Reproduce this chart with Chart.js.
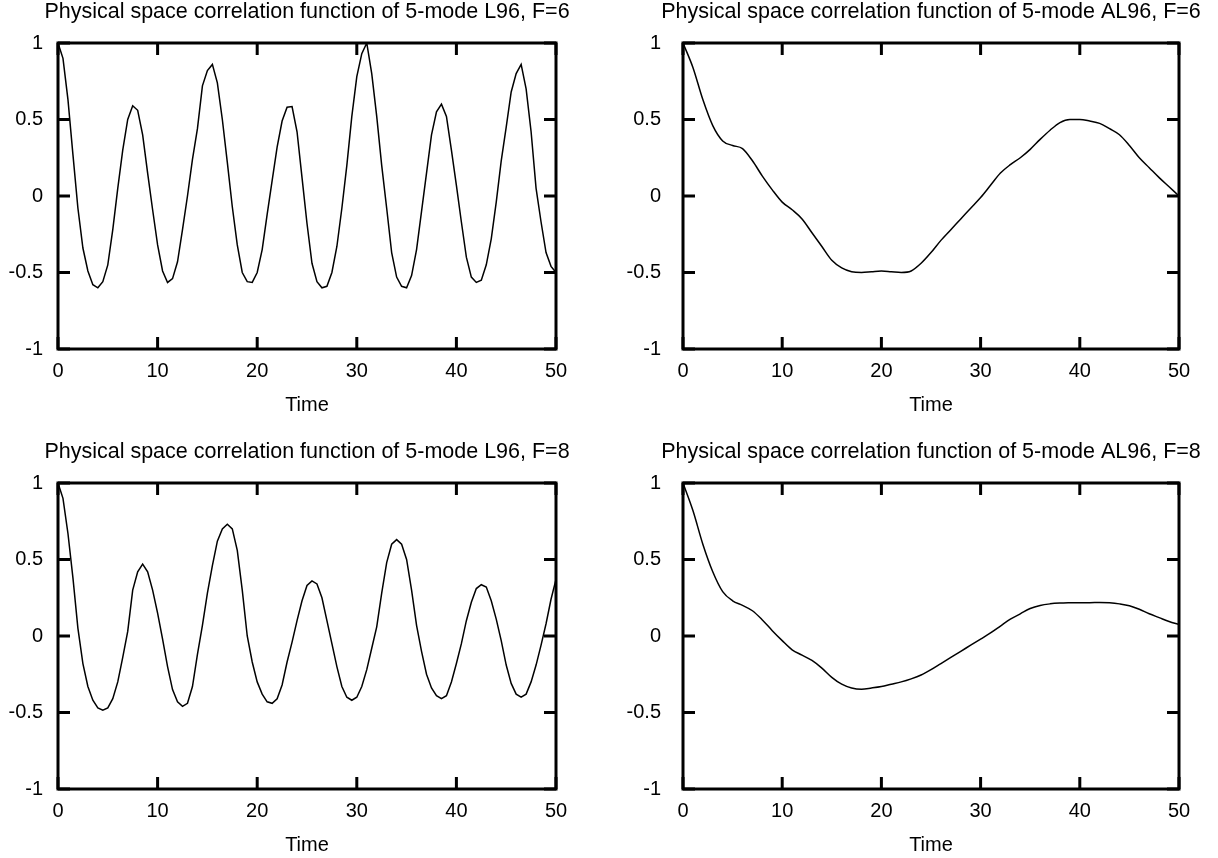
<!DOCTYPE html>
<html>
<head>
<meta charset="utf-8">
<script src="https://cdn.jsdelivr.net/npm/chart.js@4.4.1/dist/chart.umd.min.js"></script>
<style>
  html, body { margin: 0; padding: 0; background: #fff; overflow: hidden; }
  .panel { position: absolute; height: 420px; }
  .left { left: 0px; width: 614px; }
  .right { left: 609px; width: 644px; }
</style>
</head>
<body>
<div class="panel left" style="top:0px"><canvas id="chartL96F6"></canvas></div>
<div class="panel right" style="top:0px"><canvas id="chartAL96F6"></canvas></div>
<div class="panel left" style="top:440px"><canvas id="chartL96F8"></canvas></div>
<div class="panel right" style="top:440px"><canvas id="chartAL96F8"></canvas></div>
<script>
// sampling times
const timeHalf = [0, 0.5, 1, 1.5, 2, 2.5, 3, 3.5, 4, 4.5, 5, 5.5, 6, 6.5, 7, 7.5, 8, 8.5, 9, 9.5,
  10, 10.5, 11, 11.5, 12, 12.5, 13, 13.5, 14, 14.5, 15, 15.5, 16, 16.5, 17, 17.5, 18, 18.5, 19, 19.5,
  20, 20.5, 21, 21.5, 22, 22.5, 23, 23.5, 24, 24.5, 25, 25.5, 26, 26.5, 27, 27.5, 28, 28.5, 29, 29.5,
  30, 30.5, 31, 31.5, 32, 32.5, 33, 33.5, 34, 34.5, 35, 35.5, 36, 36.5, 37, 37.5, 38, 38.5, 39, 39.5,
  40, 40.5, 41, 41.5, 42, 42.5, 43, 43.5, 44, 44.5, 45, 45.5, 46, 46.5, 47, 47.5, 48, 48.5, 49, 49.5, 50];
const timeWhole = [0, 1, 2, 3, 4, 5, 6, 7, 8, 9, 10, 11, 12, 13, 14, 15, 16, 17, 18, 19,
  20, 21, 22, 23, 24, 25, 26, 27, 28, 29, 30, 31, 32, 33, 34, 35, 36, 37, 38, 39,
  40, 41, 42, 43, 44, 45, 46, 47, 48, 49, 50];

// correlation values
const corrL96F6 = [1.0, 0.9, 0.63, 0.27, -0.08, -0.34, -0.49, -0.58, -0.6, -0.56,
  -0.45, -0.22, 0.05, 0.3, 0.5, 0.59, 0.56, 0.4, 0.15, -0.09,
  -0.32, -0.49, -0.565, -0.54, -0.43, -0.22, 0.0, 0.24, 0.44, 0.72,
  0.82, 0.86, 0.74, 0.5, 0.22, -0.07, -0.32, -0.5, -0.56, -0.565,
  -0.5, -0.35, -0.12, 0.1, 0.32, 0.49, 0.58, 0.585, 0.42, 0.12,
  -0.18, -0.44, -0.56, -0.6, -0.59, -0.5, -0.33, -0.08, 0.2, 0.52,
  0.78, 0.93, 1.0, 0.8, 0.52, 0.2, -0.08, -0.37, -0.53, -0.59,
  -0.6, -0.52, -0.35, -0.1, 0.15, 0.4, 0.55, 0.6, 0.52, 0.3,
  0.07, -0.17, -0.4, -0.53, -0.565, -0.55, -0.45, -0.28, -0.04, 0.23,
  0.45, 0.68, 0.8, 0.86, 0.7, 0.42, 0.05, -0.17, -0.37, -0.46,
  -0.5];
const corrL96F8 = [1.0, 0.9, 0.67, 0.38, 0.05, -0.18, -0.33, -0.42, -0.47, -0.485,
  -0.47, -0.41, -0.3, -0.14, 0.03, 0.3, 0.42, 0.47, 0.42, 0.3,
  0.15, -0.02, -0.2, -0.35, -0.43, -0.46, -0.44, -0.33, -0.12, 0.07,
  0.28, 0.46, 0.62, 0.7, 0.73, 0.7, 0.56, 0.3, 0.0, -0.17,
  -0.3, -0.38, -0.43, -0.44, -0.41, -0.32, -0.17, -0.04, 0.1, 0.23,
  0.33, 0.36, 0.34, 0.25, 0.1, -0.05, -0.2, -0.33, -0.4, -0.42,
  -0.4, -0.33, -0.22, -0.08, 0.06, 0.28, 0.48, 0.6, 0.63, 0.6,
  0.5, 0.3, 0.07, -0.1, -0.25, -0.34, -0.39, -0.41, -0.39, -0.3,
  -0.18, -0.05, 0.1, 0.22, 0.31, 0.335, 0.32, 0.23, 0.11, -0.03,
  -0.19, -0.31, -0.38, -0.4, -0.38, -0.3, -0.19, -0.06, 0.08, 0.24,
  0.37];
const corrAL96F6 = [1.0, 0.84, 0.63, 0.46, 0.36, 0.33, 0.31, 0.23, 0.13, 0.04,
  -0.04, -0.09, -0.15, -0.24, -0.33, -0.42, -0.47, -0.495, -0.5, -0.495,
  -0.49, -0.495, -0.5, -0.49, -0.44, -0.37, -0.29, -0.22, -0.15, -0.08,
  -0.01, 0.07, 0.15, 0.205, 0.25, 0.305, 0.37, 0.43, 0.48, 0.5,
  0.5, 0.49, 0.475, 0.44, 0.4, 0.33, 0.25, 0.185, 0.12, 0.06,
  0.0];
const corrAL96F8 = [1.0, 0.82, 0.6, 0.42, 0.29, 0.23, 0.2, 0.165, 0.105, 0.035,
  -0.03, -0.09, -0.125, -0.16, -0.21, -0.27, -0.315, -0.34, -0.348, -0.34,
  -0.33, -0.315, -0.3, -0.28, -0.255, -0.22, -0.18, -0.14, -0.1, -0.06,
  -0.02, 0.02, 0.065, 0.11, 0.145, 0.18, 0.2, 0.21, 0.215, 0.217,
  0.218, 0.218, 0.219, 0.217, 0.21, 0.198, 0.175, 0.145, 0.12, 0.095,
  0.075];

const titles = [
  'Physical space correlation function of 5-mode L96, F=6',
  'Physical space correlation function of 5-mode AL96, F=6',
  'Physical space correlation function of 5-mode L96, F=8',
  'Physical space correlation function of 5-mode AL96, F=8'
];
const xTicks = [0, 10, 20, 30, 40, 50];
const yTicks = [-1, -0.5, 0, 0.5, 1];

Chart.defaults.font.family = "'Liberation Sans', Arial, Helvetica, sans-serif";
Chart.defaults.font.size = 20;
Chart.defaults.color = '#000';

// gnuplot-like frame: thick border, ticks pointing inwards on all four sides
const gnuplotFrame = {
    id: 'gnuplotFrame',
    afterDatasetsDraw(chart) {
        const ctx = chart.ctx;
        const { left, right, top, bottom } = chart.chartArea;
        const xScale = chart.scales.x;
        const yScale = chart.scales.y;
        const tickLen = 12;
        ctx.save();
        ctx.strokeStyle = '#000';
        ctx.lineWidth = 3;
        ctx.beginPath();
        xScale.ticks.forEach(function (t) {
            const px = xScale.getPixelForValue(t.value);
            ctx.moveTo(px, bottom);
            ctx.lineTo(px, bottom - tickLen);
            ctx.moveTo(px, top);
            ctx.lineTo(px, top + tickLen);
        });
        yScale.ticks.forEach(function (t) {
            const py = yScale.getPixelForValue(t.value);
            ctx.moveTo(left, py);
            ctx.lineTo(left + tickLen, py);
            ctx.moveTo(right, py);
            ctx.lineTo(right - tickLen, py);
        });
        ctx.stroke();
        ctx.strokeRect(left, top, right - left, bottom - top);
        ctx.restore();
    }
};

// an empty right-hand axis as wide as the left one keeps the
// full-width title centred over the plot frame
function make_chart(canvasId, titleText, times, values, smooth, yAxisWidth, labelPad) {
    const points = times.map((t, i) => ({ x: t, y: values[i] }));
    const ctx = document.getElementById(canvasId).getContext('2d');
    return new Chart(ctx, {
        type: 'line',
        data: {
            datasets: [{
                data: points,
                borderColor: '#000',
                borderWidth: 1.5,
                pointRadius: 0,
                fill: false,
                tension: smooth ? 0.4 : 0,
                cubicInterpolationMode: smooth ? 'monotone' : 'default'
            }]
        },
        options: {
            responsive: true,
            maintainAspectRatio: false,
            animation: false,
            layout: { padding: 0 },
            plugins: {
                legend: { display: false },
                tooltip: { enabled: false },
                title: {
                    display: true,
                    text: titleText,
                    color: '#000',
                    font: { size: 21.5, weight: 'normal', lineHeight: 1.1 },
                    padding: { top: 0, bottom: 19.35 }
                }
            },
            scales: {
                x: {
                    type: 'linear',
                    min: xTicks[0],
                    max: xTicks[xTicks.length - 1],
                    afterBuildTicks: function (scale) {
                        scale.ticks = xTicks.map(v => ({ value: v }));
                    },
                    ticks: { padding: 10, color: '#000', maxRotation: 0, callback: v => String(v) },
                    grid: { display: false, drawTicks: false },
                    border: { display: false },
                    title: { display: true, text: 'Time', color: '#000', font: { size: 20 }, padding: { top: 0, bottom: 3 } },
                    afterFit: function (scale) { scale.height = 71; }
                },
                y: {
                    type: 'linear',
                    min: yTicks[0],
                    max: yTicks[yTicks.length - 1],
                    afterBuildTicks: function (scale) {
                        scale.ticks = yTicks.map(v => ({ value: v }));
                    },
                    ticks: { padding: labelPad, color: '#000', callback: v => String(v) },
                    grid: { display: false, drawTicks: false },
                    border: { display: false },
                    afterFit: function (scale) { scale.width = yAxisWidth; }
                },
                yRight: {
                    type: 'linear',
                    position: 'right',
                    display: true,
                    ticks: { display: false },
                    grid: { display: false, drawTicks: false },
                    border: { display: false },
                    afterFit: function (scale) { scale.width = yAxisWidth; }
                }
            }
        },
        plugins: [gnuplotFrame]
    });
}

make_chart('chartL96F6', titles[0], timeHalf, corrL96F6, false, 58, 15);
make_chart('chartAL96F6', titles[1], timeWhole, corrAL96F6, true, 74, 22);
make_chart('chartL96F8', titles[2], timeHalf, corrL96F8, false, 58, 15);
make_chart('chartAL96F8', titles[3], timeWhole, corrAL96F8, true, 74, 22);
</script>
</body>
</html>
